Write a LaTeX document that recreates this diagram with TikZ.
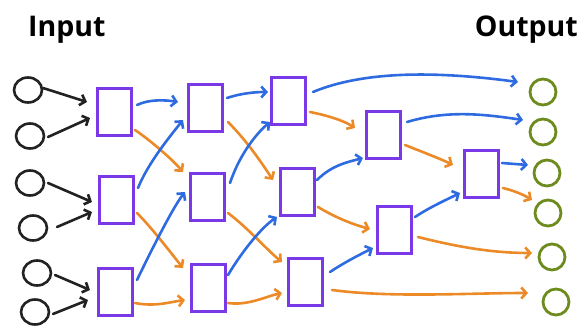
\documentclass[tikz,border=0pt]{standalone}
\usepackage{fontspec}
\setmainfont{Open Sans}
\usetikzlibrary{arrows.meta,shapes.geometric}
\definecolor{boxpurple}{HTML}{7A38E6}
\definecolor{arrblue}{HTML}{2E6BE0}
\definecolor{arrorange}{HTML}{EC8A28}
\definecolor{outgreen}{HTML}{6E8B1E}
\definecolor{inblack}{HTML}{222222}
\tikzset{
  inc/.style={ellipse,draw=inblack,line width=2.6pt,minimum width=28pt,minimum height=25pt,inner sep=0pt},
  outc/.style={circle,draw=outgreen,line width=2.8pt,minimum size=26pt,inner sep=0pt},
  cell/.style={rectangle,draw=boxpurple,line width=3pt,minimum width=34pt,minimum height=47pt,inner sep=0pt},
  tip/.style={-{Straight Barb[length=5pt,width=11pt,line width=2.6pt]},line width=2.6pt,line cap=round},
  karrow/.style={tip,draw=inblack},
  barrow/.style={tip,draw=arrblue},
  oarrow/.style={tip,draw=arrorange},
  title/.style={font=\bfseries\fontsize{28.5}{32}\selectfont,inner sep=0pt}
}
\begin{document}
\begin{tikzpicture}[x=1pt,y=-1pt]
\useasboundingbox (0,0) rectangle (582,326);
% titles
\node[title,anchor=base west] (tin) at (28,37) {Input};
\node[title,anchor=base east] (tout) at (578,37) {Output};
% input circles
\node[inc] (c1) at (28,90) {};
\node[inc] (c2) at (30,136) {};
\node[inc] (c3) at (30,183) {};
\node[inc] (c4) at (33,228) {};
\node[inc] (c5) at (37,273) {};
\node[inc] (c6) at (35,312) {};
% output circles
\node[outc] (o1) at (543,92) {};
\node[outc] (o2) at (543,132) {};
\node[outc] (o3) at (547,173) {};
\node[outc] (o4) at (548,213) {};
\node[outc] (o5) at (552,257) {};
\node[outc] (o6) at (556,302) {};
% cells
\node[cell] (b11) at (114,112) {};
\node[cell] (b12) at (116,200) {};
\node[cell] (b13) at (115,292) {};
\node[cell] (b21) at (205,108) {};
\node[cell] (b22) at (207,197) {};
\node[cell] (b23) at (208,288) {};
\node[cell] (b31) at (288,101) {};
\node[cell] (b32) at (297,192) {};
\node[cell] (b33) at (305,282) {};
\node[cell] (b41) at (383,135) {};
\node[cell] (b42) at (394,230) {};
\node[cell] (b51) at (481,174) {};
% black arrows
\draw[karrow] ([shift={(15,-2)}]c1.center) -- ([shift={(-27,-10)}]b11.center);
\draw[karrow] ([shift={(18,1)}]c2.center) -- ([shift={(-24,6)}]b11.center);
\draw[karrow] ([shift={(18,0)}]c3.center) -- ([shift={(-24,2)}]b12.center);
\draw[karrow] ([shift={(24,-1)}]c4.center) -- ([shift={(-24,12)}]b12.center);
\draw[karrow] ([shift={(18,2)}]c5.center) -- ([shift={(-25,-2)}]b13.center);
\draw[karrow] ([shift={(18,2)}]c6.center) -- ([shift={(-27,8)}]b13.center);
% column 1 -> 2
\draw[barrow] ([shift={(23,-7)}]b11.center) .. controls +(12,-6) and +(-12,-2) .. ([shift={(-27,-6)}]b21.center);
\draw[oarrow] ([shift={(21,18)}]b11.center) .. controls +(15,10) and +(-10,-12) .. ([shift={(-24,-25)}]b22.center);
\draw[barrow] ([shift={(22,-12)}]b12.center) .. controls +(10,-25) and +(-12,15) .. ([shift={(-22,12)}]b21.center);
\draw[oarrow] ([shift={(21,13)}]b12.center) .. controls +(15,15) and +(-12,-15) .. ([shift={(-25,-20)}]b23.center);
\draw[barrow] ([shift={(22,-12)}]b13.center) .. controls +(12,-25) and +(-12,15) .. ([shift={(-22,-5)}]b22.center);
\draw[oarrow] ([shift={(20,11)}]b13.center) .. controls +(20,4) and +(-15,2) .. ([shift={(-23,12)}]b23.center);
% column 2 -> 3
\draw[barrow] ([shift={(22,-10)}]b21.center) .. controls +(15,-5) and +(-12,0) .. ([shift={(-20,-9)}]b31.center);
\draw[oarrow] ([shift={(23,14)}]b21.center) .. controls +(20,20) and +(-10,-15) .. ([shift={(-24,-12)}]b32.center);
\draw[barrow] ([shift={(23,-14)}]b22.center) .. controls +(10,-30) and +(-12,10) .. ([shift={(-18,21)}]b31.center);
\draw[oarrow] ([shift={(21,16)}]b22.center) .. controls +(20,15) and +(-15,-12) .. ([shift={(-23,-20)}]b33.center);
\draw[barrow] ([shift={(20,-13)}]b23.center) .. controls +(15,-25) and +(-15,10) .. ([shift={(-20,25)}]b32.center);
\draw[oarrow] ([shift={(20,15)}]b23.center) .. controls +(20,3) and +(-15,3) .. ([shift={(-23,11)}]b33.center);
% column 3 -> 4 / outputs
\draw[barrow] ([shift={(25,-9)}]b31.center) .. controls +(60,-25) and +(-60,-8) .. ([shift={(-25,-10)}]o1.center);
\draw[oarrow] ([shift={(22,11)}]b31.center) .. controls +(15,3) and +(-12,-8) .. ([shift={(-28,-7)}]b41.center);
\draw[barrow] ([shift={(20,-12)}]b32.center) .. controls +(15,-15) and +(-15,4) .. ([shift={(-20,23)}]b41.center);
\draw[oarrow] ([shift={(21,15)}]b32.center) .. controls +(20,12) and +(-15,-4) .. ([shift={(-24,-1)}]b42.center);
\draw[barrow] ([shift={(25,-10)}]b33.center) .. controls +(15,-10) and +(-12,6) .. ([shift={(-21,18)}]b42.center);
\draw[oarrow] ([shift={(27,8)}]b33.center) .. controls +(60,8) and +(-60,0) .. ([shift={(-28,-9)}]o6.center);
% column 4 -> 5 / outputs
\draw[barrow] ([shift={(24,-13)}]b41.center) .. controls +(40,-12) and +(-40,-6) .. ([shift={(-20,-12)}]o2.center);
\draw[oarrow] ([shift={(22,10)}]b41.center) .. controls +(15,6) and +(-12,-6) .. ([shift={(-28,-9)}]b51.center);
\draw[barrow] ([shift={(21,-13)}]b42.center) .. controls +(15,-10) and +(-12,6) .. ([shift={(-21,19)}]b51.center);
\draw[oarrow] ([shift={(24,7)}]b42.center) .. controls +(40,10) and +(-40,0) .. ([shift={(-20,-4)}]o5.center);
% column 5 -> outputs
\draw[barrow] ([shift={(21,-11)}]b51.center) -- ([shift={(-19,-8)}]o3.center);
\draw[oarrow] ([shift={(22,14)}]b51.center) .. controls +(12,3) and +(-8,-5) .. ([shift={(-16,-13)}]o4.center);
\end{tikzpicture}
\end{document}
